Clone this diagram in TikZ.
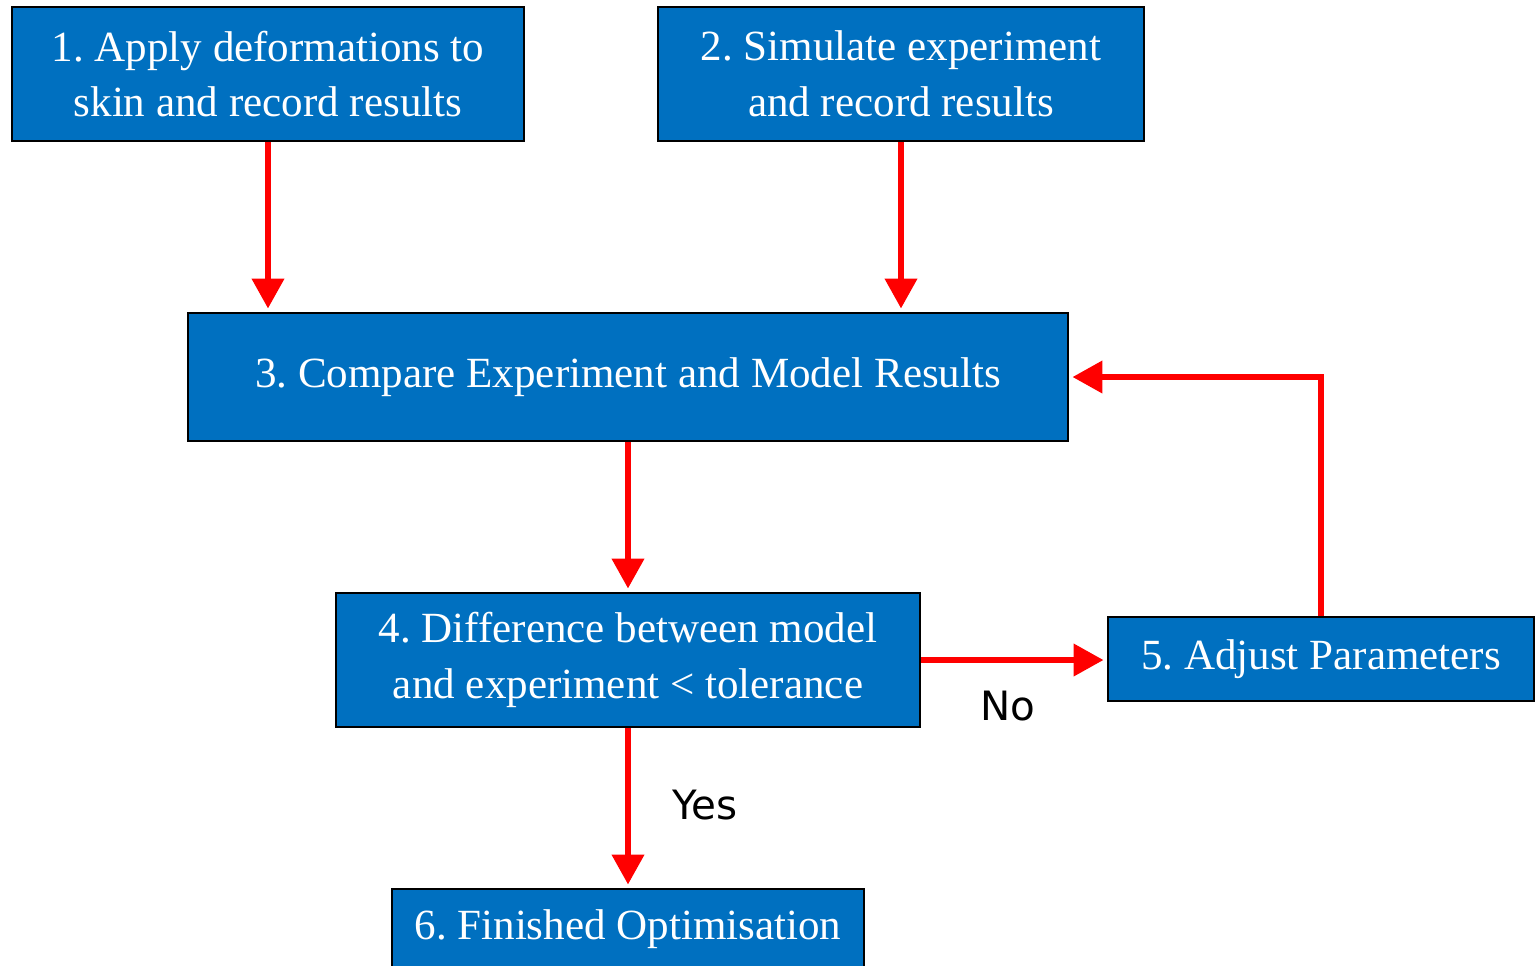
\documentclass[tikz,border=0pt]{standalone}
\usepackage{fontspec}
\setmainfont{Liberation Serif}
\newfontfamily\answerfont{DejaVu Sans}
\usetikzlibrary{calc,arrows.meta}
\definecolor{boxblue}{HTML}{0070C0}
\frenchspacing

\begin{document}
\begin{tikzpicture}[x=0.02cm,y=-0.02cm,
	box/.style={draw=black,line width=1.2pt,fill=boxblue,text=white,align=center,inner sep=0pt,font=\fontsize{24.5}{31.75}\selectfont},
	flow/.style={draw=red,line width=3pt,-{Triangle[length=17pt,width=18pt]},shorten >=2pt},
	answer/.style={font=\answerfont\fontsize{23}{28}\selectfont}]
	\useasboundingbox (0,0) rectangle (1536,965);
    \clip (0,0) rectangle (1536,965);
    \pgfmathsetmacro{\u}{0.02}	%px to cm

    \coordinate (C1) at (268,74);
    \coordinate (C2) at (901,74);
    \coordinate (C3) at (628,377);
    \coordinate (C4) at ($(C3) + (0,283)$);
    \coordinate (C5) at (1321,659);
    \coordinate (C6) at ($(C4) + (0,269)$);

	\node[box,minimum width=512*\u cm,minimum height=134*\u cm] (skin) at (C1) {1. Apply deformations to\\skin and record results};
	\node[box,minimum width=486*\u cm,minimum height=134*\u cm] (sim) at (C2) {2. Simulate experiment\\and record results};
	\node[box,minimum width=880*\u cm,minimum height=128*\u cm] (cmp) at (C3) {3. Compare Experiment and Model Results};
	\node[box,minimum width=584*\u cm,minimum height=134*\u cm] (diff) at (C4) {4. Difference between model\\and experiment < tolerance};
	\node[box,minimum width=426*\u cm,minimum height=84*\u cm] (adj) at (C5) {5. Adjust Parameters};
	\node[box,minimum width=472*\u cm,minimum height=80*\u cm] (fin) at (C6) {6. Finished Optimisation};

	\draw[flow] (skin.south) -- (skin.south |- cmp.north);
	\draw[flow] (sim.south) -- (sim.south |- cmp.north);
	\draw[flow] (cmp.south) -- (diff.north);
	\draw[flow] (diff.east) -- (diff.east -| adj.west);
	\draw[flow] (diff.south) -- (fin.north);
	\draw[flow] (adj.north) |- (cmp.east);

	\node[answer] (no) at (1008,706) {No};
	\node[answer] (yes) at (705,805) {Yes};
\end{tikzpicture}
\end{document}
